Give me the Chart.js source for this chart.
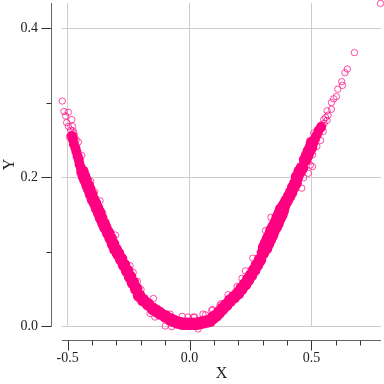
<!DOCTYPE html>
<html>
<head>
<meta charset="UTF-8" />
<title>X Y scatter</title>
<script src="https://cdn.jsdelivr.net/npm/chart.js"></script>
<style>
    html, body { margin: 0; padding: 0; background: #fff; }
    #wrap { width: 384px; height: 384px; }
</style>
</head>
<body>
<div id="wrap"><canvas id="chart" width="384" height="384"></canvas></div>
<script>
// merged part of the cloud, where the circles overlap into a solid band
const bandX = [-.439,-.433,-.427,-.418,-.412,-.404,-.396,-.388,-.379,-.371,-.363,-.353,-.345,-.334,-.324,-.314,-.304,-.293,-.281,-.269,-.256,-.244,-.232,-.219,-.207,-.191,-.170,-.150,-.135,-.121,-.100,-.080,-.066,-.052,-.039,-.027,-.012,.002,.016,.030,.043,.055,.070,.084,.096,.109,.121,.135,.150,.166,.183,.199,.213,.228,.240,.252,.265,.277,.289,.301,.388,.398,.408,.416,.425,.435,.441,.451,.461,.474,.482,.490,.498,.502];
const bandY = [.207,.201,.196,.189,.184,.177,.170,.165,.158,.152,.145,.138,.132,.125,.118,.110,.103,.097,.090,.082,.074,.066,.058,.050,.041,.035,.029,.023,.020,.017,.013,.009,.007,.005,.004,.003,.003,.003,.003,.003,.004,.005,.006,.007,.011,.014,.018,.023,.028,.034,.039,.044,.050,.056,.062,.068,.075,.082,.089,.098,.162,.168,.174,.179,.186,.192,.200,.207,.212,.223,.229,.235,.240,.246];
// widest stretch of the right branch
const wideX = [.310,.318,.326,.334,.340,.349,.357,.365,.373,.379];
const wideY = [.105,.111,.117,.122,.128,.133,.138,.145,.150,.156];
// thinner ends of the band
const endsX = [-.482,-.478,-.474,-.468,-.464,-.459,-.454,-.451,-.445,.513,.521,.529,.539];
const endsY = [.255,.250,.244,.239,.234,.228,.223,.217,.212,.251,.256,.262,.267];
// single circles that stand clear of the band
const looseX = [.783,.676,.647,.637,.624,.627,.608,.602,.591,.582,.582,.564,.568,.550,.564,.541,.530,.548,.537,.509,.505,.495,.468,.334,.311,.259,.229,.215,.195,.158,.130,.095,.065,.021,-.522,-.515,-.497,-.508,-.483,-.504,-.497,-.487,-.474,-.456,-.493,-.405,-.390,-.367,-.356,-.303,-.292,-.244,-.231,-.214,-.199,-.148,-.162,-.142,-.100,-.080,-.073,-.030,-.006,.016,.035,.091,.125,.055,-.480,-.478,-.472,-.465,-.442,.545,.552,.558,.525,.520,.522,.504,.487,.460];
const looseY = [.433,.367,.345,.340,.328,.323,.318,.308,.305,.300,.291,.289,.283,.277,.276,.270,.265,.261,.249,.259,.230,.216,.199,.146,.128,.091,.074,.064,.053,.042,.030,.022,.015,.012,.302,.288,.287,.282,.277,.273,.268,.263,.259,.247,.254,.194,.180,.168,.152,.122,.103,.081,.072,.060,.049,.037,.017,.012,.000,.016,-.001,.013,.012,.012,-.004,.021,.028,.016,.268,.262,.255,.250,.229,.268,.272,.280,.262,.250,.241,.214,.205,.185];

const xTicks = [-.5,-.4,-.3,-.2,-.1,0,.1,.2,.3,.4,.5,.6,.7];
const xMajor = [-.5,0,.5];
const yTicks = [0,.1,.2,.3,.4];
const yMajor = [0,.2,.4];

const INK = '#222';
const PINK = '#ff0080';

function noPadding(s) {
    s.paddingTop = 0; s.paddingBottom = 0; s.paddingLeft = 0; s.paddingRight = 0;
}

function solid(xs, ys, radius) {
    return {
        data: xs.map((v, i) => ({ x: v, y: ys[i] })),
        pointRadius: radius,
        pointBorderWidth: 0,
        pointBackgroundColor: PINK,
        clip: false
    };
}

const detachedAxes = {
    id: 'detachedAxes',
    afterDraw(chart) {
        const c = chart.ctx, x = chart.scales.x, y = chart.scales.y;
        const axisX = 51.5, axisY = 340.5;
        c.save();
        c.lineWidth = 1;
        c.strokeStyle = '#666';
        c.beginPath();
        c.moveTo(axisX, y.top); c.lineTo(axisX, y.bottom + .5);
        c.moveTo(x.left, axisY); c.lineTo(x.right, axisY);
        c.stroke();
        c.strokeStyle = '#333';
        c.beginPath();
        xTicks.forEach(v => {
            const p = Math.round(x.getPixelForValue(v)) + .5;
            c.moveTo(p, axisY);
            c.lineTo(p, axisY + (xMajor.includes(v) ? 10 : 5));
        });
        yTicks.forEach(v => {
            const p = Math.round(y.getPixelForValue(v)) + .5;
            c.moveTo(axisX, p);
            c.lineTo(axisX - (yMajor.includes(v) ? 10 : 5), p);
        });
        c.stroke();
        c.restore();
    }
};

new Chart(document.getElementById('chart'), {
    type: 'scatter',
    data: {
        datasets: [
            solid(bandX, bandY, 6.3),
            solid(wideX, wideY, 7.3),
            solid(endsX, endsY, 5),
            {
                data: looseX.map((v, i) => ({ x: v, y: looseY[i] })),
                pointRadius: 3.2,
                pointBorderWidth: 1,
                pointBorderColor: 'rgba(255,0,128,.7)',
                pointBackgroundColor: 'transparent',
                clip: false
            }
        ]
    },
    options: {
        responsive: false,
        animation: false,
        layout: { autoPadding: false, padding: { top: 3, right: 3 } },
        plugins: { legend: { display: false }, tooltip: { enabled: false } },
        scales: {
            x: {
                type: 'linear',
                min: -.523,
                max: .785,
                afterFit: s => { s.height = 58; noPadding(s); },
                afterBuildTicks: s => { s.ticks = xTicks.map(v => ({ value: v })); },
                border: { display: false },
                grid: { drawTicks: false, color: ctx => xMajor.includes(ctx.tick.value) ? '#ccc' : 'transparent' },
                ticks: {
                    padding: 24, autoSkip: false, maxRotation: 0, color: INK,
                    font: { family: 'Liberation Serif', size: 14 },
                    callback: v => xMajor.includes(v) ? v.toFixed(1) : ''
                },
                title: { display: true, text: 'X', color: INK, padding: { top: 0, bottom: 1 }, font: { family: 'Liberation Serif', size: 16 } }
            },
            y: {
                type: 'linear',
                min: 0,
                max: .4336,
                afterFit: s => { s.width = 62; noPadding(s); },
                afterBuildTicks: s => { s.ticks = yTicks.map(v => ({ value: v })); },
                border: { display: false },
                grid: { drawTicks: false, color: ctx => yMajor.includes(ctx.tick.value) ? '#ccc' : 'transparent' },
                ticks: {
                    padding: 24, autoSkip: false, color: INK,
                    font: { family: 'Liberation Serif', size: 14 },
                    callback: v => yMajor.includes(v) ? v.toFixed(1) : ''
                },
                title: { display: true, text: 'Y', color: INK, padding: { top: 0, bottom: 0 }, font: { family: 'Liberation Serif', size: 16 } }
            }
        }
    },
    plugins: [detachedAxes]
});
</script>
</body>
</html>
